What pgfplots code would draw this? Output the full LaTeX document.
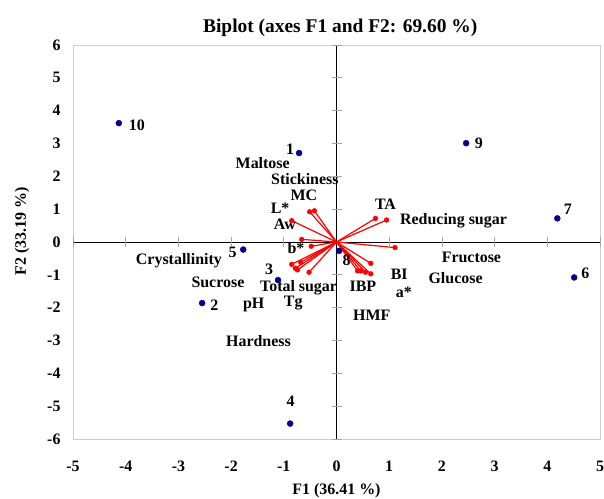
\documentclass[border=0pt]{standalone}
\usepackage{fontspec}
\setmainfont{Liberation Serif}
\usepackage{pgfplots}
\pgfplotsset{compat=1.18}
\usepackage{pgfplotstable}

\definecolor{obsblue}{RGB}{0,0,140}
\definecolor{framegray}{RGB}{205,205,205}
\definecolor{tickgray}{RGB}{165,165,165}

% Observation scores on F1/F2
\pgfplotstableread{
x y
-0.71 2.71
-2.55 -1.86
-1.11 -1.16
-0.88 -5.53
-1.77 -0.23
4.51 -1.08
4.19 0.72
0.05 -0.27
2.46 3.01
-4.13 3.62
}\obs

% Variable loadings (vector tips)
\pgfplotstableread{
x y
-0.51 0.92
-0.42 0.95
-0.85 0.65
-0.66 0.08
-0.48 -0.13
-0.85 -0.68
-0.78 -0.80
-0.74 -0.85
-0.68 -0.62
-0.52 -0.92
0.74 0.72
0.95 0.67
1.11 -0.17
0.65 -0.65
0.40 -0.88
0.46 -0.88
0.55 -0.92
0.65 -0.97
}\vars

\newcommand{\lbl}{\fontsize{16}{18}\selectfont\bfseries}

\begin{document}
\begin{tikzpicture}[font=\bfseries]
\useasboundingbox (-73bp,-60bp) rectangle (531bp,439bp);
\begin{axis}[
  at={(0,0)}, anchor=south west,
  scale only axis, width=527bp, height=394bp,
  xmin=-5, xmax=5, ymin=-6, ymax=6,
  xtick={-5,...,5}, ytick={-6,...,6},
  major tick length=0pt,
  axis line style={draw=framegray},
  clip=false,
  /pgf/number format/assume math mode=true,
  tick label style={font=\lbl},
  xticklabel style={anchor=center, yshift=-27bp},
  yticklabel style={anchor=east, xshift=-9bp},
  title={Biplot (axes F1 and F2: 69.60 \%)},
  every axis title shift=0pt,
  title style={font=\fontsize{19.5}{22}\selectfont\bfseries, at={(axis description cs:0.507,1.044)}, anchor=center},
  xlabel={F1 (36.41 \%)},
  xlabel style={font=\fontsize{16}{18}\selectfont\bfseries, at={(axis description cs:0.5,-0.132)}, anchor=center},
  ylabel={F2 (33.19 \%)},
  ylabel style={font=\fontsize{16}{18}\selectfont\bfseries, at={(axis description cs:-0.0968,0.528)}, anchor=center},
]
% zero lines
\draw[black, line width=0.9bp] (axis cs:0,-6) -- (axis cs:0,6);
\draw[black, line width=0.9bp] (axis cs:-5,0) -- (axis cs:5,0);
% tick marks sitting on the zero lines
\addplot[only marks, mark=|, mark size=5bp, tickgray, mark options={line width=0.8bp}]
  coordinates {(-5,0) (-4,0) (-3,0) (-2,0) (-1,0) (1,0) (2,0) (3,0) (4,0) (5,0)};
\addplot[only marks, mark=-, mark size=5bp, tickgray, mark options={line width=0.8bp}]
  coordinates {(0,-6) (0,-5) (0,-4) (0,-3) (0,-2) (0,-1) (0,1) (0,2) (0,3) (0,4) (0,5) (0,6)};

% variable vectors
\addplot[red, line width=1.2bp, quiver={u=\thisrow{x}, v=\thisrow{y}}]
  table[x expr=0, y expr=0] {\vars};
\addplot[only marks, mark=*, mark size=2.4bp, red] table {\vars};

% observations
\addplot[only marks, mark=*, mark size=3bp, obsblue] table {\obs};

% observation labels
\node[font=\lbl] at (axis cs:-0.88,2.84) {1};
\node[font=\lbl] at (axis cs:-2.32,-1.92) {2};
\node[font=\lbl] at (axis cs:-1.28,-0.83) {3};
\node[font=\lbl] at (axis cs:-0.87,-4.86) {4};
\node[font=\lbl] at (axis cs:-1.97,-0.33) {5};
\node[font=\lbl] at (axis cs:4.72,-0.95) {6};
\node[font=\lbl] at (axis cs:4.39,1.00) {7};
\node[font=\lbl] at (axis cs:0.19,-0.55) {8};
\node[font=\lbl] at (axis cs:2.70,3.01) {9};
\node[font=\lbl] at (axis cs:-3.79,3.56) {10};

% variable labels
\node[font=\lbl] at (axis cs:-1.40,2.40) {Maltose};
\node[font=\lbl] at (axis cs:-0.60,1.91) {Stickiness};
\node[font=\lbl] at (axis cs:-0.62,1.41) {MC};
\node[font=\lbl] at (axis cs:-1.07,1.04) {L*};
\node[font=\lbl] at (axis cs:-0.98,0.54) {Aw};
\node[font=\lbl] at (axis cs:-0.77,-0.19) {b*};
\node[font=\lbl] at (axis cs:-2.99,-0.57) {Crystallinity};
\node[font=\lbl] at (axis cs:-2.25,-1.23) {Sucrose};
\node[font=\lbl] at (axis cs:-1.57,-1.92) {pH};
\node[font=\lbl] at (axis cs:-0.72,-1.38) {Total sugar};
\node[font=\lbl] at (axis cs:-0.82,-1.87) {Tg};
\node[font=\lbl] at (axis cs:-1.48,-3.01) {Hardness};
\node[font=\lbl] at (axis cs:0.93,1.15) {TA};
\node[font=\lbl] at (axis cs:2.22,0.65) {Reducing sugar};
\node[font=\lbl] at (axis cs:2.56,-0.46) {Fructose};
\node[font=\lbl] at (axis cs:2.26,-1.10) {Glucose};
\node[font=\lbl] at (axis cs:1.19,-0.97) {BI};
\node[font=\lbl] at (axis cs:1.28,-1.52) {a*};
\node[font=\lbl] at (axis cs:0.50,-1.36) {IBP};
\node[font=\lbl] at (axis cs:0.67,-2.23) {HMF};
\end{axis}
\end{tikzpicture}
\end{document}
